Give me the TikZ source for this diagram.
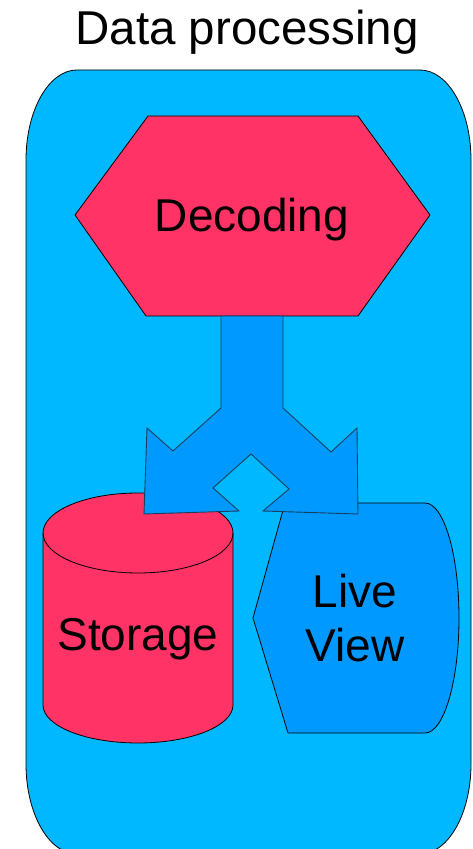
\documentclass[tikz,border=0pt]{standalone}
\usepackage{fontspec}
\setmainfont{Liberation Sans}
\definecolor{panelblue}{HTML}{00B8FF}
\definecolor{flowblue}{HTML}{0099FF}
\definecolor{hotred}{HTML}{FF3366}
\definecolor{arrowline}{HTML}{1A3F5C}
\begin{document}
\begin{tikzpicture}[x=1pt,y=1pt,
  shapeline/.style={draw=black,line width=0.8pt},
  label/.style={font=\fontsize{46}{54}\selectfont,text=black,inner sep=0pt}]
\useasboundingbox (0,0) rectangle (472,849);

% container panel with elliptical corners
\begin{scope}
\clip (0,0) rectangle (472,849);
\filldraw[fill=panelblue,shapeline]
  (26,689) arc[start angle=180,end angle=90,x radius=51pt,y radius=90pt]
  -- (420,779) arc[start angle=90,end angle=0,x radius=51pt,y radius=90pt]
  -- (471,85) arc[start angle=0,end angle=-90,x radius=51pt,y radius=90pt]
  -- (77,-5) arc[start angle=270,end angle=180,x radius=51pt,y radius=90pt]
  -- cycle;
\end{scope}
\node[label,font=\fontsize{47.5}{54}\selectfont,anchor=base] (title) at (247,804) {Data processing};

% decoding hexagon
\filldraw[fill=hotred,shapeline]
  (148,733) -- (358,733) -- (430,634) -- (358,533) -- (146,533) -- (75,634) -- cycle;
\node[label,anchor=base] (decoding) at (252,617) {Decoding};

% storage cylinder
\filldraw[fill=hotred,shapeline]
  (43,316) -- (43,144) arc[start angle=180,end angle=360,x radius=95pt,y radius=38pt]
  -- (233,316) arc[start angle=0,end angle=180,x radius=95pt,y radius=40pt] -- cycle;
\draw[shapeline] (43,316) arc[start angle=180,end angle=360,x radius=95pt,y radius=40pt];
\node[label,anchor=base] (storage) at (138,198) {Storage};

% live view display shape
\filldraw[fill=flowblue,shapeline]
  (285,346) -- (253,231) -- (288,116) -- (425,116)
  arc[start angle=-90,end angle=90,x radius=34pt,y radius=115pt] -- cycle;
\node[label,anchor=base] (live) at (355,241) {Live};
\node[label,anchor=base] (view) at (355,187) {View};

% split arrow from decoding to storage and live view
\filldraw[fill=flowblue,draw=arrowline,line width=0.9pt,line join=miter]
  (221,533) -- (221,441) -- (173,398) -- (147,421) -- (144,335) -- (239,338)
  -- (213,361) -- (251,395) -- (289,360) -- (263,338) -- (358,335) -- (357,421)
  -- (331,397) -- (283,441) -- (283,533) -- cycle;
\end{tikzpicture}
\end{document}
